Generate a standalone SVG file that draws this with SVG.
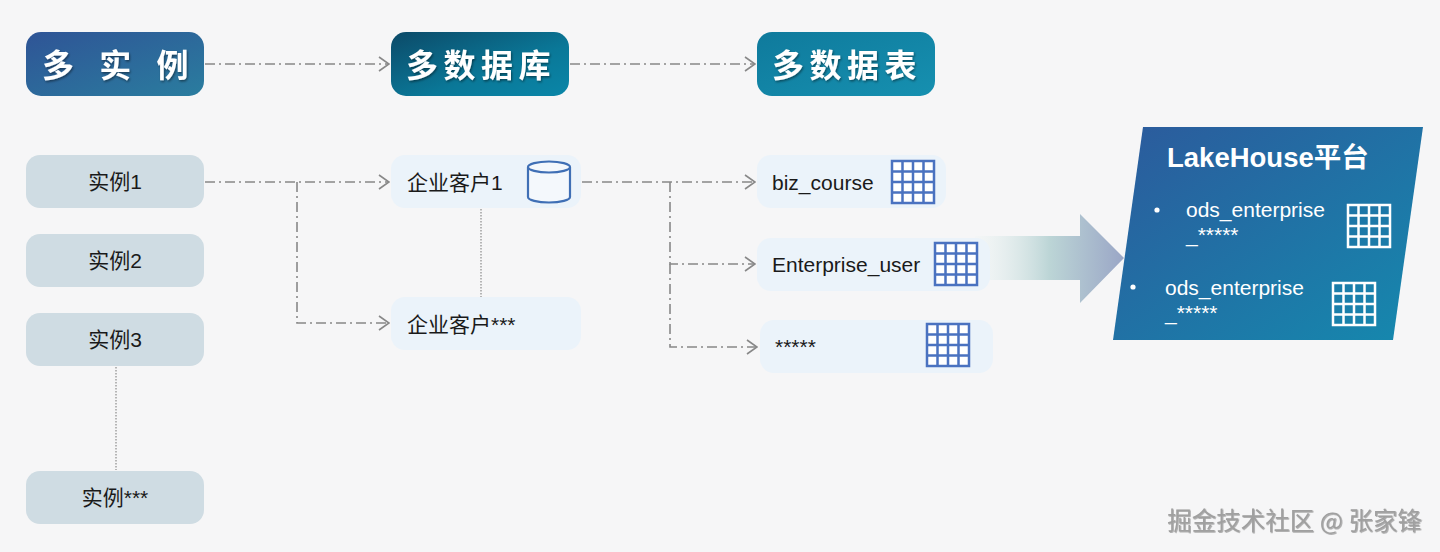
<svg xmlns="http://www.w3.org/2000/svg" width="1440" height="552" viewBox="0 0 1440 552">
<style>
.bg{fill:#f6f6f7}
.hdr{font-family:"Noto Sans CJK SC","Liberation Sans",sans-serif;font-weight:700;font-size:32px;fill:#ffffff}
.inst{fill:#cfdce3}
.light{fill:#ebf3fa}
.t{font-family:"Liberation Sans","Noto Sans CJK SC",sans-serif;font-size:21px;fill:#1a1a1a}
.w{font-family:"Liberation Sans","Noto Sans CJK SC",sans-serif;font-size:21px;fill:#ffffff}
.conn{fill:none;stroke:#888888;stroke-width:1.6;stroke-dasharray:10 4 2 4}
.dot{fill:none;stroke:#8a8a8a;stroke-width:1.2;stroke-dasharray:1.5 1.5}
.wm{font-family:"Noto Sans CJK SC","Liberation Sans",sans-serif;font-size:24.5px;fill:#a0a0a0}
</style>
<defs>
<linearGradient id="g1" x1="0" y1="0" x2="1" y2="1"><stop offset="0" stop-color="#2f5496"/><stop offset="1" stop-color="#2a7d9f"/></linearGradient>
<linearGradient id="g2" x1="0" y1="0" x2="1" y2="1"><stop offset="0" stop-color="#0c4a68"/><stop offset="0.6" stop-color="#0a7898"/><stop offset="1" stop-color="#0a86a8"/></linearGradient>
<linearGradient id="g3" x1="0" y1="0" x2="1" y2="1"><stop offset="0" stop-color="#0f7a9c"/><stop offset="1" stop-color="#1690b0"/></linearGradient>
<linearGradient id="g4" x1="0" y1="0" x2="1" y2="1"><stop offset="0" stop-color="#2c5a9c"/><stop offset="1" stop-color="#1589ae"/></linearGradient>
<linearGradient id="ga" gradientUnits="userSpaceOnUse" x1="975" y1="0" x2="1124" y2="0"><stop offset="0" stop-color="#eef5f4" stop-opacity="0.3"/><stop offset="0.5" stop-color="#bcd5d6"/><stop offset="1" stop-color="#9aa6c6"/></linearGradient>
<filter id="sh" x="-10%" y="-10%" width="120%" height="130%"><feDropShadow dx="1" dy="1.5" stdDeviation="1" flood-color="#000" flood-opacity="0.45"/></filter>
<filter id="emb" x="-5%" y="-20%" width="110%" height="140%"><feDropShadow dx="0.8" dy="0.8" stdDeviation="0.3" flood-color="#333" flood-opacity="0.45"/></filter>
<marker id="arr" markerUnits="userSpaceOnUse" viewBox="0 0 12 16" refX="11" refY="8" markerWidth="12" markerHeight="16" orient="auto">
<path d="M1,1 L11,8 L1,15" fill="none" stroke="#888888" stroke-width="1.6"/>
</marker>
<symbol id="grid" viewBox="0 0 44 44" overflow="visible">
<rect x="1" y="1" width="42" height="42" stroke="currentColor" stroke-width="2.5"/>
<path d="M11.5,1V43M22,1V43M32.5,1V43M1,11.5H43M1,22H43M1,32.5H43" stroke="currentColor" stroke-width="2.5" fill="none"/>
</symbol>
</defs>
<rect class="bg" x="0" y="0" width="1440" height="552"/>

<g id="connectors">
<path class="conn" d="M205,64 H389" marker-end="url(#arr)"/>
<path class="conn" d="M570,64 H755" marker-end="url(#arr)"/>
<path class="conn" d="M205,182 H389" marker-end="url(#arr)"/>
<path class="conn" d="M297,182 V323 H389" marker-end="url(#arr)"/>
<path class="conn" d="M582,182 H755" marker-end="url(#arr)"/>
<path class="conn" d="M670,182 V264 H755" marker-end="url(#arr)"/>
<path class="conn" d="M670,264 V347 H757" marker-end="url(#arr)"/>
<path class="dot" d="M116,367 V470"/>
<path class="dot" d="M481,203 V301"/>
<path id="bigarrow" d="M975,236 H1080 V214 L1124,258 L1080,303 V280 H975 Z" fill="url(#ga)"/>
</g>

<g id="n-multi-instance">
<rect x="26" y="32" width="178" height="64" rx="15" fill="url(#g1)"/>
<text class="hdr" x="42" y="77" letter-spacing="9" filter="url(#sh)">多 实 例</text>
</g>
<g id="n-multi-db">
<rect x="391" y="32" width="178" height="64" rx="15" fill="url(#g2)"/>
<text class="hdr" x="406" y="77" letter-spacing="5.5" filter="url(#sh)">多数据库</text>
</g>
<g id="n-multi-table">
<rect x="757" y="32" width="178" height="64" rx="15" fill="url(#g3)"/>
<text class="hdr" x="772" y="77" letter-spacing="5.5" filter="url(#sh)">多数据表</text>
</g>

<g id="n-inst1"><rect class="inst" x="26" y="155" width="178" height="53" rx="14"/><text class="t" x="115" y="189" text-anchor="middle">实例1</text></g>
<g id="n-inst2"><rect class="inst" x="26" y="234" width="178" height="53" rx="14"/><text class="t" x="115" y="268" text-anchor="middle">实例2</text></g>
<g id="n-inst3"><rect class="inst" x="26" y="313" width="178" height="53" rx="14"/><text class="t" x="115" y="347" text-anchor="middle">实例3</text></g>
<g id="n-inst-more"><rect class="inst" x="26" y="471" width="178" height="53" rx="14"/><text class="t" x="115" y="505" text-anchor="middle">实例***</text></g>

<g id="n-db1">
<rect class="light" x="391" y="155" width="190" height="53" rx="14"/>
<text class="t" x="407" y="190">企业客户1</text>
<path d="M528,167 V197 A21,5.5 0 0 0 570,197 V167" fill="#f4f8fc" stroke="#3f6fb5" stroke-width="2.2"/>
<ellipse cx="549" cy="167" rx="21" ry="5.5" fill="#f4f8fc" stroke="#3f6fb5" stroke-width="2.2"/>
</g>
<g id="n-db-more">
<rect class="light" x="391" y="297" width="190" height="53" rx="14"/>
<text class="t" x="407" y="332">企业客户***</text>
</g>

<g id="n-biz-course">
<rect class="light" x="757" y="155" width="189" height="53" rx="14"/>
<text class="t" x="772" y="190">biz_course</text>
<use href="#grid" x="891" y="160" width="44" height="44" fill="#ffffff" color="#4a72c0"/>
</g>
<g id="n-enterprise-user">
<rect class="light" x="757" y="238" width="233" height="53" rx="14"/>
<text class="t" x="772" y="272">Enterprise_user</text>
<use href="#grid" x="934" y="242" width="44" height="44" fill="#ffffff" color="#4a72c0"/>
</g>
<g id="n-table-more">
<rect class="light" x="760" y="320" width="233" height="53" rx="14"/>
<text class="t" x="775" y="354">*****</text>
<use href="#grid" x="926" y="323" width="44" height="44" fill="#ffffff" color="#4a72c0"/>
</g>

<g id="n-lakehouse">
<polygon points="1143,127 1423,127 1393,340 1113,340" fill="url(#g4)"/>
<text x="1167" y="167" font-family="Liberation Sans,Noto Sans CJK SC,sans-serif" font-weight="700" font-size="27.5" fill="#ffffff">LakeHouse平台</text>
<circle cx="1157" cy="210" r="2.6" fill="#ffffff"/>
<text class="w" x="1186" y="217">ods_enterprise</text>
<text class="w" x="1186" y="242">_*****</text>
<use href="#grid" x="1347" y="204" width="44" height="44" fill="none" color="#ffffff"/>
<circle cx="1133" cy="287" r="2.6" fill="#ffffff"/>
<text class="w" x="1165" y="295">ods_enterprise</text>
<text class="w" x="1165" y="320">_*****</text>
<use href="#grid" x="1332" y="282" width="44" height="44" fill="none" color="#ffffff"/>
</g>

<text class="wm" x="1422" y="530" text-anchor="end" filter="url(#emb)">掘金技术社区 @ 张家锋</text>
</svg>
